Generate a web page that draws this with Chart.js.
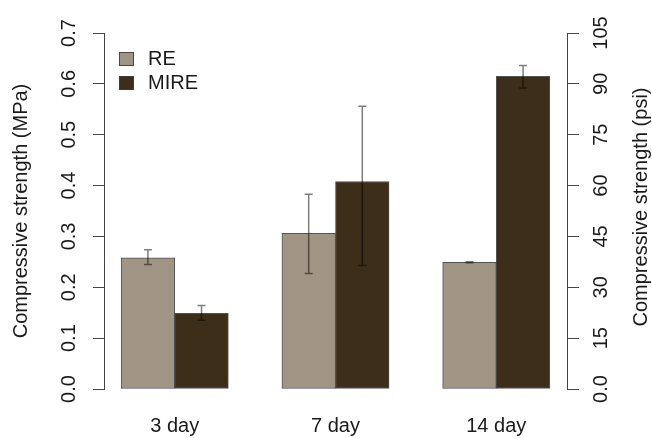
<!DOCTYPE html>
<html>
<head>
<meta charset="utf-8">
<script src="https://cdn.jsdelivr.net/npm/chart.js@4.4.1/dist/chart.umd.min.js"></script>
<style>
  html, body { margin: 0; padding: 0; background: #fff; }
  #wrap { width: 652px; height: 438px; }
</style>
</head>
<body>
<div id="wrap"><canvas id="strength-chart"></canvas></div>
<script>
// curing age groups
const days = ['3 day', '7 day', '14 day'];

// compressive strength in MPa, with error bar ends
const reMean = [0.258, 0.306, 0.249];
const reLow = [0.245, 0.227, 0.248];
const reHigh = [0.274, 0.383, 0.250];

const mireMean = [0.149, 0.408, 0.615];
const mireLow = [0.135, 0.243, 0.592];
const mireHigh = [0.164, 0.556, 0.636];

// axis tick labels
const mpaTicks = ['0.0', '0.1', '0.2', '0.3', '0.4', '0.5', '0.6', '0.7'];
const psiTicks = ['0.0', '15', '30', '45', '60', '75', '90', '105'];

const FONT = "'Liberation Sans', Arial, sans-serif";
const TEXT = '#1a1a1a';
const AXIS = '#444';

// barplot style positions: bars of width 1, a gap of 1 between groups
const groupCenter = days.map((d, i) => 3 * i + 2);

// draws rotated tick labels, axis titles, legend and error bars
const rStyle = {
  id: 'rStyle',
  afterDatasetsDraw(chart) {
    const ctx = chart.ctx;
    const yL = chart.scales.y;

    // error bars
    const lows = [reLow, mireLow];
    const highs = [reHigh, mireHigh];
    ctx.save();
    ctx.strokeStyle = 'rgba(0,0,0,0.5)';
    ctx.lineWidth = 1.5;
    chart.data.datasets.forEach((ds, i) => {
      chart.getDatasetMeta(i).data.forEach((bar, j) => {
        const y1 = yL.getPixelForValue(lows[i][j]);
        const y2 = yL.getPixelForValue(highs[i][j]);
        ctx.beginPath();
        ctx.moveTo(bar.x, y1); ctx.lineTo(bar.x, y2);
        ctx.moveTo(bar.x - 4, y1); ctx.lineTo(bar.x + 4, y1);
        ctx.moveTo(bar.x - 4, y2); ctx.lineTo(bar.x + 4, y2);
        ctx.stroke();
      });
    });
    ctx.restore();
  },
  afterDraw(chart) {
    const ctx = chart.ctx;
    const area = chart.chartArea;
    const yL = chart.scales.y;
    const yR = chart.scales.y2;

    ctx.save();
    ctx.fillStyle = TEXT;
    ctx.font = '20px ' + FONT;
    ctx.textAlign = 'center';
    ctx.textBaseline = 'middle';

    const rotText = (txt, x, y) => {
      ctx.save();
      ctx.translate(x, y);
      ctx.rotate(-Math.PI / 2);
      ctx.fillText(txt, 0, 0);
      ctx.restore();
    };

    yL.ticks.forEach((t, i) => rotText(mpaTicks[i], area.left - 35, yL.getPixelForValue(t.value)));
    yR.ticks.forEach((t, i) => rotText(psiTicks[i], area.right + 34, yR.getPixelForValue(t.value)));

    const midY = (area.top + area.bottom) / 2;
    rotText('Compressive strength (MPa)', 21, midY);
    rotText('Compressive strength (psi)', 641, midY - 4);

    // legend
    ctx.textAlign = 'left';
    chart.data.datasets.forEach((ds, i) => {
      const top = area.top + 19 + i * 24;
      ctx.fillStyle = ds.backgroundColor;
      ctx.fillRect(area.left + 15.5, top + 0.5, 14, 13);
      ctx.strokeStyle = 'rgba(40,40,40,0.8)';
      ctx.lineWidth = 1;
      ctx.strokeRect(area.left + 15.5, top + 0.5, 14, 13);
      ctx.fillStyle = TEXT;
      ctx.fillText(ds.label, area.left + 44, top + 7);
    });
    ctx.restore();
  }
};

const ctx = document.getElementById('strength-chart').getContext('2d');
new Chart(ctx, {
  type: 'bar',
  data: {
    datasets: [
      {
        label: 'RE',
        data: reMean.map((v, i) => ({ x: groupCenter[i] - 0.5, y: v })),
        backgroundColor: '#a09584'
      },
      {
        label: 'MIRE',
        data: mireMean.map((v, i) => ({ x: groupCenter[i] + 0.5, y: v })),
        backgroundColor: '#3d2e19'
      }
    ]
  },
  options: {
    responsive: true,
    maintainAspectRatio: false,
    animation: false,
    grouped: false,
    categoryPercentage: 1,
    barPercentage: 1,
    borderWidth: 1,
    borderColor: 'rgba(40,40,40,0.8)',
    borderSkipped: false,
    layout: { padding: { top: 33 } },
    plugins: {
      legend: { display: false },
      tooltip: { enabled: false }
    },
    scales: {
      x: {
        type: 'linear',
        min: 0.68,
        max: 9.32,
        offset: false,
        afterBuildTicks: s => { s.ticks = groupCenter.map(v => ({ value: v })); },
        afterFit: s => { s.height = 49; },
        grid: { display: false, drawTicks: false, offset: false },
        border: { display: false },
        ticks: {
          autoSkip: false,
          maxRotation: 0,
          padding: 25,
          color: TEXT,
          font: { family: FONT, size: 20 },
          callback: (v, i) => days[i]
        }
      },
      y: {
        position: 'left',
        min: 0,
        max: 0.7,
        afterFit: s => { s.width = 104; },
        ticks: { stepSize: 0.1, display: false },
        grid: { drawOnChartArea: false, tickLength: 11, color: AXIS },
        border: { color: AXIS }
      },
      y2: {
        position: 'right',
        min: 0,
        max: 105,
        afterFit: s => { s.width = 85; },
        ticks: { stepSize: 15, display: false },
        grid: { drawOnChartArea: false, tickLength: 12, color: AXIS },
        border: { color: AXIS }
      }
    }
  },
  plugins: [rStyle]
});
</script>
</body>
</html>
